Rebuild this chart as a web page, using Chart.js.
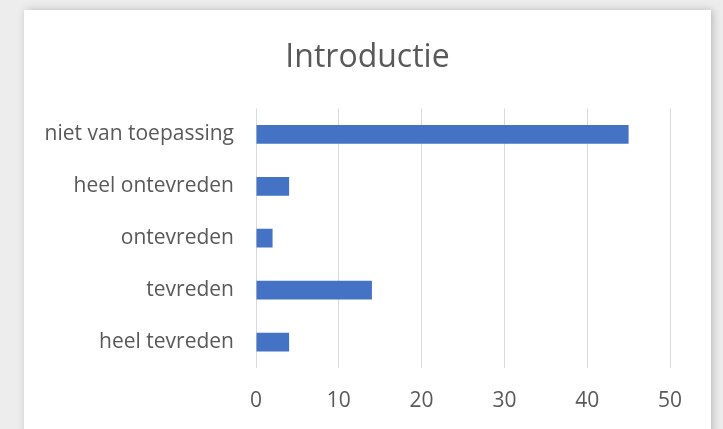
<!DOCTYPE html>
<html>
<head>
<meta charset="utf-8">
<script src="https://cdn.jsdelivr.net/npm/chart.js@4"></script>
<style>
  html, body { margin: 0; padding: 0; }
  body { width: 723px; height: 429px; background: #ededed; position: relative; overflow: hidden; }
  #kaart {
    position: absolute; left: 24px; top: 10px; width: 687px; height: 440px;
    background: #fff; box-shadow: 2px 0 8px rgba(0,0,0,0.22);
  }
  #grafiek { display: block; }
</style>
</head>
<body>
<div id="kaart"><canvas id="grafiek" width="687" height="419"></canvas></div>
<script>
// categorieën van boven naar beneden
const categorieen = ["niet van toepassing", "heel ontevreden", "ontevreden", "tevreden", "heel tevreden"];
const aantallen = [45, 4, 2, 14, 4];
const xTicks = [0, 10, 20, 30, 40, 50];

const tekstKleur = "#595959";
const lettertype = "'Open Sans', sans-serif";

const ctx = document.getElementById("grafiek").getContext("2d");
new Chart(ctx, {
  type: 'bar',
  data: {
    labels: categorieen,
    datasets: [{ label: 'Introductie', data: aantallen, backgroundColor: '#4472C4', borderWidth: 0, barPercentage: 0.36, categoryPercentage: 1 }]
  },
  options: {
    indexAxis: 'y',
    responsive: false,
    animation: false,
    layout: { padding: 0 },
    plugins: {
      legend: { display: false },
      tooltip: { enabled: false },
      title: {
        display: true, text: 'Introductie', color: tekstKleur,
        font: { family: lettertype, size: 32, weight: 'normal' },
        padding: { top: 29, bottom: 31 }
      }
    },
    scales: {
      x: {
        min: 0, max: 50,
        afterBuildTicks: (s) => { s.ticks = xTicks.map(v => ({ value: v })); },
        afterFit: (s) => { s.height = 61; },
        grid: { color: '#d9d9d9', lineWidth: 1, drawTicks: false },
        border: { display: false },
        ticks: { color: tekstKleur, font: { family: lettertype, size: 21 }, padding: 20 }
      },
      y: {
        afterFit: (s) => { s.width = 232; },
        grid: { display: false, drawTicks: false },
        border: { display: false },
        ticks: { color: tekstKleur, font: { family: lettertype, size: 21 }, padding: 22 }
      },
      // lege ruimte rechts van het plotvlak
      rechts: {
        type: 'category', axis: 'y', position: 'right', labels: categorieen,
        afterFit: (s) => { s.width = 41; },
        grid: { display: false, drawTicks: false },
        border: { display: false },
        ticks: { display: false }
      }
    }
  }
});
</script>
</body>
</html>
